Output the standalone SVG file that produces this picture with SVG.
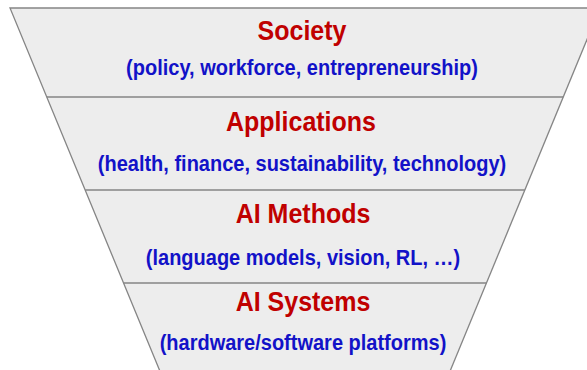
<svg xmlns="http://www.w3.org/2000/svg" width="587" height="370" viewBox="0 0 587 370">
<style>
.band{fill:#ededed;stroke:none}
.edge{fill:none;stroke:#858585;stroke-width:1.3}
.title{font-family:"Liberation Sans",Arial,sans-serif;font-weight:bold;font-size:25px;fill:#c00000;text-anchor:middle}
.sub{font-family:"Liberation Sans",Arial,sans-serif;font-weight:bold;font-size:20px;fill:#1212c8;text-anchor:middle}
</style>
<rect x="0" y="0" width="587" height="370" fill="#ffffff"/>
<g id="funnel">
<polygon class="band" points="10,8 600,8 446.4,380 163.6,380"/>
</g>
<g id="connectors">
<polyline class="edge" points="600,8 10,8 163.6,380"/>
<line class="edge" x1="600" y1="8" x2="446.4" y2="380"/>
<line class="edge" x1="46.8" y1="97" x2="563.2" y2="97"/>
<line class="edge" x1="85.2" y1="190" x2="524.8" y2="190"/>
<line class="edge" x1="123.6" y1="283" x2="486.4" y2="283"/>
</g>
<g id="society">
<text class="title" transform="translate(302,40) scale(1,1.07)">Society</text>
<text class="sub" transform="translate(302,75) scale(1,1.07)">(policy, workforce, entrepreneurship)</text>
</g>
<g id="applications">
<text class="title" transform="translate(301,131) scale(1,1.07)">Applications</text>
<text class="sub" transform="translate(302,171) scale(1,1.07)">(health, finance, sustainability, technology)</text>
</g>
<g id="ai-methods">
<text class="title" transform="translate(303,223) scale(1,1.07)">AI Methods</text>
<text class="sub" transform="translate(303,265) scale(1,1.07)">(language models, vision, RL, …)</text>
</g>
<g id="ai-systems">
<text class="title" transform="translate(303,311) scale(1,1.07)">AI Systems</text>
<text class="sub" transform="translate(303,350) scale(1,1.07)">(hardware/software platforms)</text>
</g>
</svg>
